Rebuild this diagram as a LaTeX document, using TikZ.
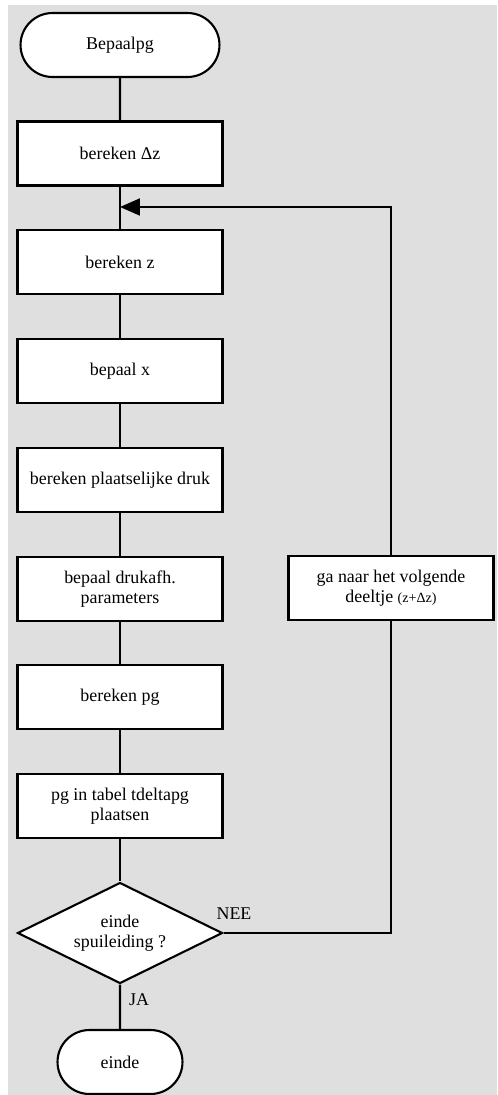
\documentclass[tikz,border=0pt]{standalone}
\usepackage{fontspec}
\setmainfont{Liberation Serif}
\usetikzlibrary{shapes.geometric,shapes.misc,arrows.meta}
\definecolor{achtergrond}{HTML}{DFDFDF}
\begin{document}
\begin{tikzpicture}[x=0.02cm,y=-0.02cm,
        every node/.style={font=\fontsize{10.2}{11.5}\selectfont},
        stap/.style={draw,fill=white,line width=1.2pt,minimum width=4.1cm,minimum height=1.28cm,align=center,inner sep=2pt},
        eind/.style={draw,fill=white,line width=1.2pt,rounded rectangle,minimum height=1.28cm,inner sep=2pt},
        keuze/.style={draw,fill=white,line width=1.2pt,diamond,aspect=2,minimum width=4.1cm,minimum height=2.02cm,inner sep=0pt,align=center},
        lijn/.style={line width=1.2pt}]
        \useasboundingbox (0,0) rectangle (497,1095);
        \fill[achtergrond] (8,5) rectangle (497,1095);

        \node[eind,minimum width=4.12cm] (start) at (120,45) {Bepaalpg};
        \node[stap] (dz) at (120,153.5) {bereken Δz};
        \node[stap] (bz) at (120,262) {bereken z};
        \node[stap] (bx) at (120,371) {bepaal x};
        \node[stap] (druk) at (120,480) {bereken plaatselijke druk};
        \node[stap] (param) at (120,589) {bepaal drukafh.\\parameters};
        \node[stap] (pg) at (120,697) {bereken pg};
        \node[stap] (tabel) at (120,806) {pg in tabel tdeltapg\\plaatsen};
        \node[keuze] (vraag) at (120,933) {einde\\spuileiding ?};
        \node[eind,minimum width=2.64cm] (einde) at (120,1062) {einde};
        \node[stap] (ga) at (391,588) {ga naar het volgende\\deeltje {\fontsize{8}{9}\selectfont (z+Δz)}};
        \coordinate (join) at (120,207);

        \draw[lijn] (start) -- (dz);
        \draw[lijn] (dz) -- (bz);
        \draw[lijn] (bz) -- (bx);
        \draw[lijn] (bx) -- (druk);
        \draw[lijn] (druk) -- (param);
        \draw[lijn] (param) -- (pg);
        \draw[lijn] (pg) -- (tabel);
        \draw[lijn] (tabel) -- (vraag);
        \draw[lijn] (vraag) -- (einde);

        \draw[lijn] (vraag.east) -- (vraag.east -| ga.south) -- (ga.south);
        \draw[lijn,-{Triangle[length=0.4cm,width=0.34cm]}] (ga.north) -- (ga.north |- join) -- (join);

        \node (nee) at (234,914) {NEE};
        \node (ja) at (139,1000) {JA};
    \end{tikzpicture}
\end{document}
